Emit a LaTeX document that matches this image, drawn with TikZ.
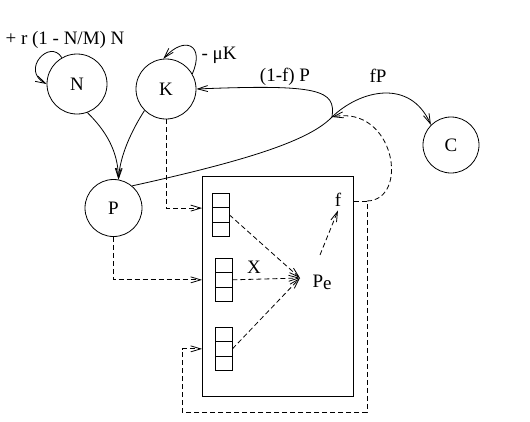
\documentclass[tikz,border=0pt]{standalone}
\usepackage{fontspec}
\setmainfont{Liberation Serif}
\usetikzlibrary{arrows.meta, calc}

\tikzset{
  pop/.style={draw, circle, minimum size=60pt, inner sep=0},
  cell/.style={draw, minimum width=17pt, minimum height=14.3pt, inner sep=0, anchor=north},
  flow/.style={-{Straight Barb[length=10pt,width=6pt]}},
  flowd/.style={flow, dash pattern=on 5pt off 3pt},
}

\begin{document}
\begin{tikzpicture}[x=1pt, y=-1pt, line width=0.8pt, font=\fontsize{19}{22}\selectfont]
        \useasboundingbox (0,0) rectangle (530,421);

        \node[pop] (N) at (77,84) {N};
        \node[pop] (K) at (166,89) {K};
        \node[pop, minimum size=57pt] (P) at (113.5,208) {P};
        \node[pop, minimum size=56pt] (C) at (451,145) {C};

        \node[draw, minimum width=151pt, minimum height=220pt, inner sep=0] (box) at (278,286.5) {};
        \foreach \n/\x/\y in {a/220.5/193, b/223.5/258, c/223.5/327}{
            \foreach \i in {0,1,2}{
                \node[cell] (\n\i) at (\x,\y+\i*14.3) {};
            }
        }

        \node (gN) at (65,40) {+ r (1 - N/M) N};
        \node (dK) at (219,55) {- μK};
        \node (lKP) at (285,77) {(1-f) P};
        \node (lfP) at (378,76) {fP};
        \node (X) at (254,267) {X};
        \node (Pe) at (322,282) {P\raisebox{-2pt}{e}};
        \node (f) at (338,200) {f};
        \coordinate (cusp) at (332,117);
        \coordinate (hub) at (300,278);
        \coordinate (corner) at (367,201);
        \coordinate (low) at (182,412);

        \draw[flow] (N.120) .. controls (50,38) and (20,70) .. (N.180);
        \draw[flow] (K.30) .. controls (205,45) and (185,35) .. (K.95);
        \draw[flow] (N.290) .. controls (105,130) and (118,150) .. (P.80);
        \draw[flow] (K.225) .. controls (132,130) and (120,155) .. (P.80);

        \draw (P.50) .. controls (250,160) and (310,140) .. (cusp);
        \draw[flow] (cusp) .. controls (336,90) and (320,84) .. (K.east);
        \draw[flow] (cusp) .. controls (360,90) and (410,78) .. (C.135);
        \draw[flowd] (corner) .. controls (410,200) and (395,105) .. (cusp);

        \draw[flowd] (K.south) |- (box.west |- a0.south);
        \draw[flowd] (P.south) |- (box.west |- b1);
        \foreach \s in {a1, b1, c1}
            \draw[flowd] (\s.east) -- (hub);
        \draw[flowd] ([shift={(-2,-16)}]Pe.north) -- (f.south);
        \draw[flowd] (box.east |- corner) -- (corner) |- (low) |- (box.west |- c1);
    \end{tikzpicture}
\end{document}
